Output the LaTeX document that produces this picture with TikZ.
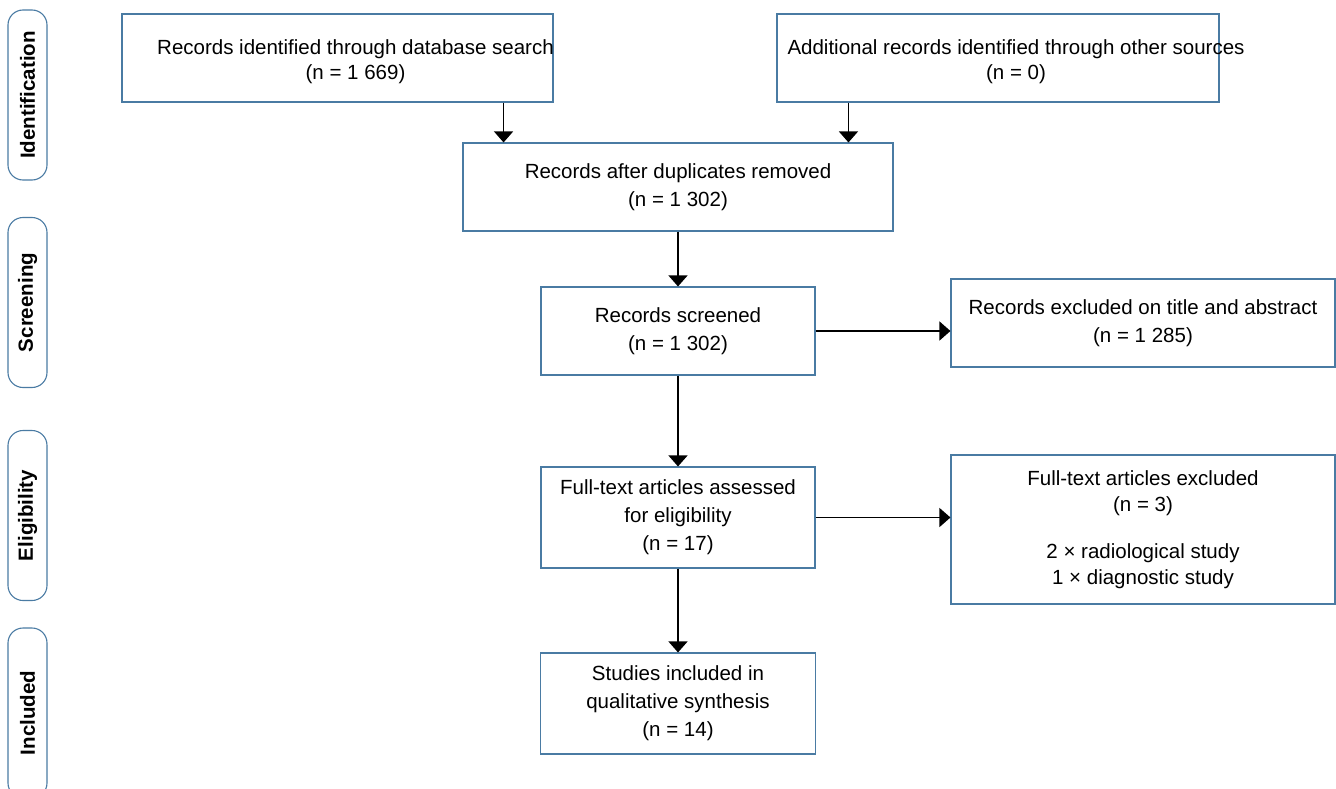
\documentclass[tikz,border=0pt]{standalone}
\usepackage{fontspec}
\setmainfont{Liberation Sans}
\usetikzlibrary{arrows.meta}
\definecolor{boxblue}{HTML}{4A7BA3}
\tikzset{
    flowbox/.style={draw=boxblue, line width=1.1pt, align=center, inner sep=0pt,
        font=\fontsize{20.5}{28}\selectfont},
    toptext/.style={align=center, inner sep=0pt, xshift=18pt, yshift=-3.5pt,
        font=\fontsize{20.5}{25}\selectfont},
    phase/.style={draw=boxblue, line width=1.1pt, rounded corners=15pt, rotate=90,
        minimum width=170pt, minimum height=39pt, inner sep=0pt,
        font=\fontsize{20.5}{24}\selectfont\bfseries},
    flowarrow/.style={draw=black, line width=1.2pt, -{Triangle[width=19pt,length=11pt]}}
}
\begin{document}
\begin{tikzpicture}[x=1pt,y=-1pt]
            \useasboundingbox (0,0) rectangle (1336,789);
            % phases
            \node [phase] (pid)  at (27.5,95.0)  {Identification};
            \node [phase] (pscr) at (27.5,302.5) {Screening};
            \node [phase] (pelg) at (27.5,515.5) {Eligibility};
            \node [phase] (pinc) at (27.5,713.0) {Included};
            % boxes
            \node [flowbox, minimum width=431pt, minimum height=88pt,
                label={[toptext]center:Records identified through database search\\(n = 1 669)}] (db) at (337.5,58.0) {};
            \node [flowbox, minimum width=442pt, minimum height=88pt,
                label={[toptext]center:Additional records identified through other sources\\(n = 0)}] (other) at (998.0,58.0) {};
            \node [flowbox, minimum width=430pt, minimum height=88pt] (dup)   at (678.0,187.0) {Records after duplicates removed\\(n = 1 302)};
            \node [flowbox, minimum width=274pt, minimum height=88pt] (scr)   at (678.0,331.0) {Records screened\\(n = 1 302)};
            \node [flowbox, minimum width=384pt, minimum height=88pt] (exc1)  at (1143.0,323.0) {Records excluded on title and abstract\\(n = 1 285)};
            \node [flowbox, minimum width=274pt, minimum height=101pt] (full) at (678.0,517.5) {Full-text articles assessed\\for eligibility\\(n = 17)};
            \node [flowbox, minimum width=384pt, minimum height=149pt, font=\fontsize{20.5}{26}\selectfont] (exc2) at (1143.0,529.5) {Full-text articles excluded\\(n = 3)\\[21pt]2 × radiological study\\1 × diagnostic study};
            \node [flowbox, minimum width=275pt, minimum height=101pt] (incl) at (678.0,703.5) {Studies included in\\qualitative synthesis\\(n = 14)};
            % arrows
            \draw[flowarrow] ([xshift=-50pt]db.south east) -- ([xshift=-50pt]db.south east |- dup.north);
            \draw[flowarrow] ([xshift=72pt]other.south west) -- ([xshift=72pt]other.south west |- dup.north);
            \draw[flowarrow] (dup.south) -- (scr.north);
            \draw[flowarrow] (scr.east) -- (scr.east -| exc1.west);
            \draw[flowarrow] (scr.south) -- (full.north);
            \draw[flowarrow] (full.east) -- (full.east -| exc2.west);
            \draw[flowarrow] (full.south) -- (incl.north);
        \end{tikzpicture}
\end{document}
